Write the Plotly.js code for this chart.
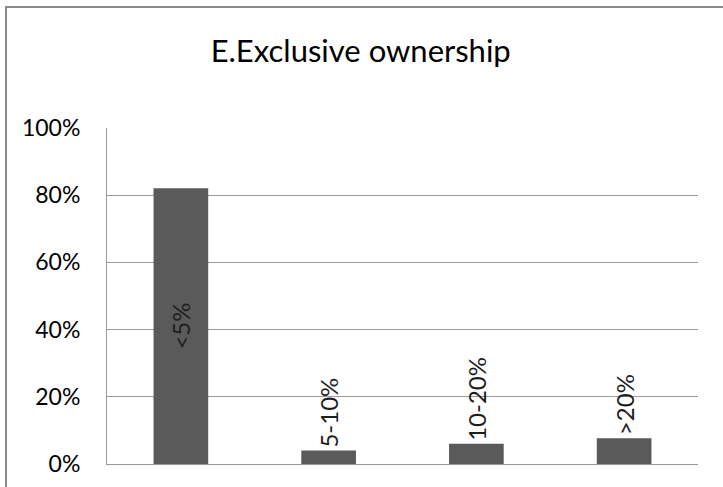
<!DOCTYPE html>
<html>
<head>
<meta charset="utf-8">
<script src="https://cdn.plot.ly/plotly-3.0.1.min.js"></script>
<style>
  html, body { margin: 0; padding: 0; background: #ffffff; width: 723px; height: 487px; overflow: hidden; }
  #frame { position: absolute; left: 5px; top: 6px; width: 716px; height: 479px;
           border-left: 2px solid #8a8a8a; border-top: 2px solid #8a8a8a; }
  #chart { width: 716px; height: 479px; }
</style>
</head>
<body>
<div id="frame"><div id="chart"></div></div>
<script>
const categories = ['<5%', '5-10%', '10-20%', '>20%'];
const shares = [0.821, 0.040, 0.060, 0.077];
const labelPositions = ['inside', 'outside', 'outside', 'outside'];
const chartTitle = 'E.Exclusive ownership';

const FONT = 'Lato, "Open Sans", "DejaVu Sans", sans-serif';

const trace = {
  type: 'bar',
  x: categories,
  y: shares,
  text: categories,
  textposition: labelPositions,
  textangle: -90,
  insidetextanchor: 'middle',
  constraintext: 'none',
  cliponaxis: false,
  textfont: { family: FONT, size: 24, color: '#1e1e1e' },
  insidetextfont: { family: FONT, size: 24, color: '#1e1e1e' },
  outsidetextfont: { family: FONT, size: 24, color: '#1e1e1e' },
  marker: { color: '#5a5a5a', line: { width: 0 } },
  hoverinfo: 'none'
};

const layout = {
  width: 716,
  height: 479,
  margin: { l: 100, r: 25, t: 120, b: 23, pad: 0 },
  paper_bgcolor: '#ffffff',
  plot_bgcolor: '#ffffff',
  showlegend: false,
  bargap: 0.63,
  title: {
    text: chartTitle,
    font: { family: FONT, size: 31, color: '#000000' },
    xref: 'container', x: 0.494, xanchor: 'center',
    yref: 'container', y: 0.91, yanchor: 'middle'
  },
  xaxis: {
    type: 'category',
    showticklabels: false,
    ticks: '',
    showgrid: false,
    zeroline: false,
    showline: true,
    linecolor: '#9a9a9a',
    linewidth: 1
  },
  yaxis: {
    range: [0, 1],
    dtick: 0.2,
    tick0: 0,
    tickformat: '.0%',
    ticks: '',
    ticklabelstandoff: 21,
    showgrid: true,
    gridcolor: '#9a9a9a',
    gridwidth: 1,
    zeroline: false,
    showline: true,
    linecolor: '#9a9a9a',
    linewidth: 1,
    tickfont: { family: FONT, size: 23, color: '#000000' }
  }
};

Plotly.newPlot('chart', [trace], layout, { displayModeBar: false, staticPlot: true });
</script>
</body>
</html>
